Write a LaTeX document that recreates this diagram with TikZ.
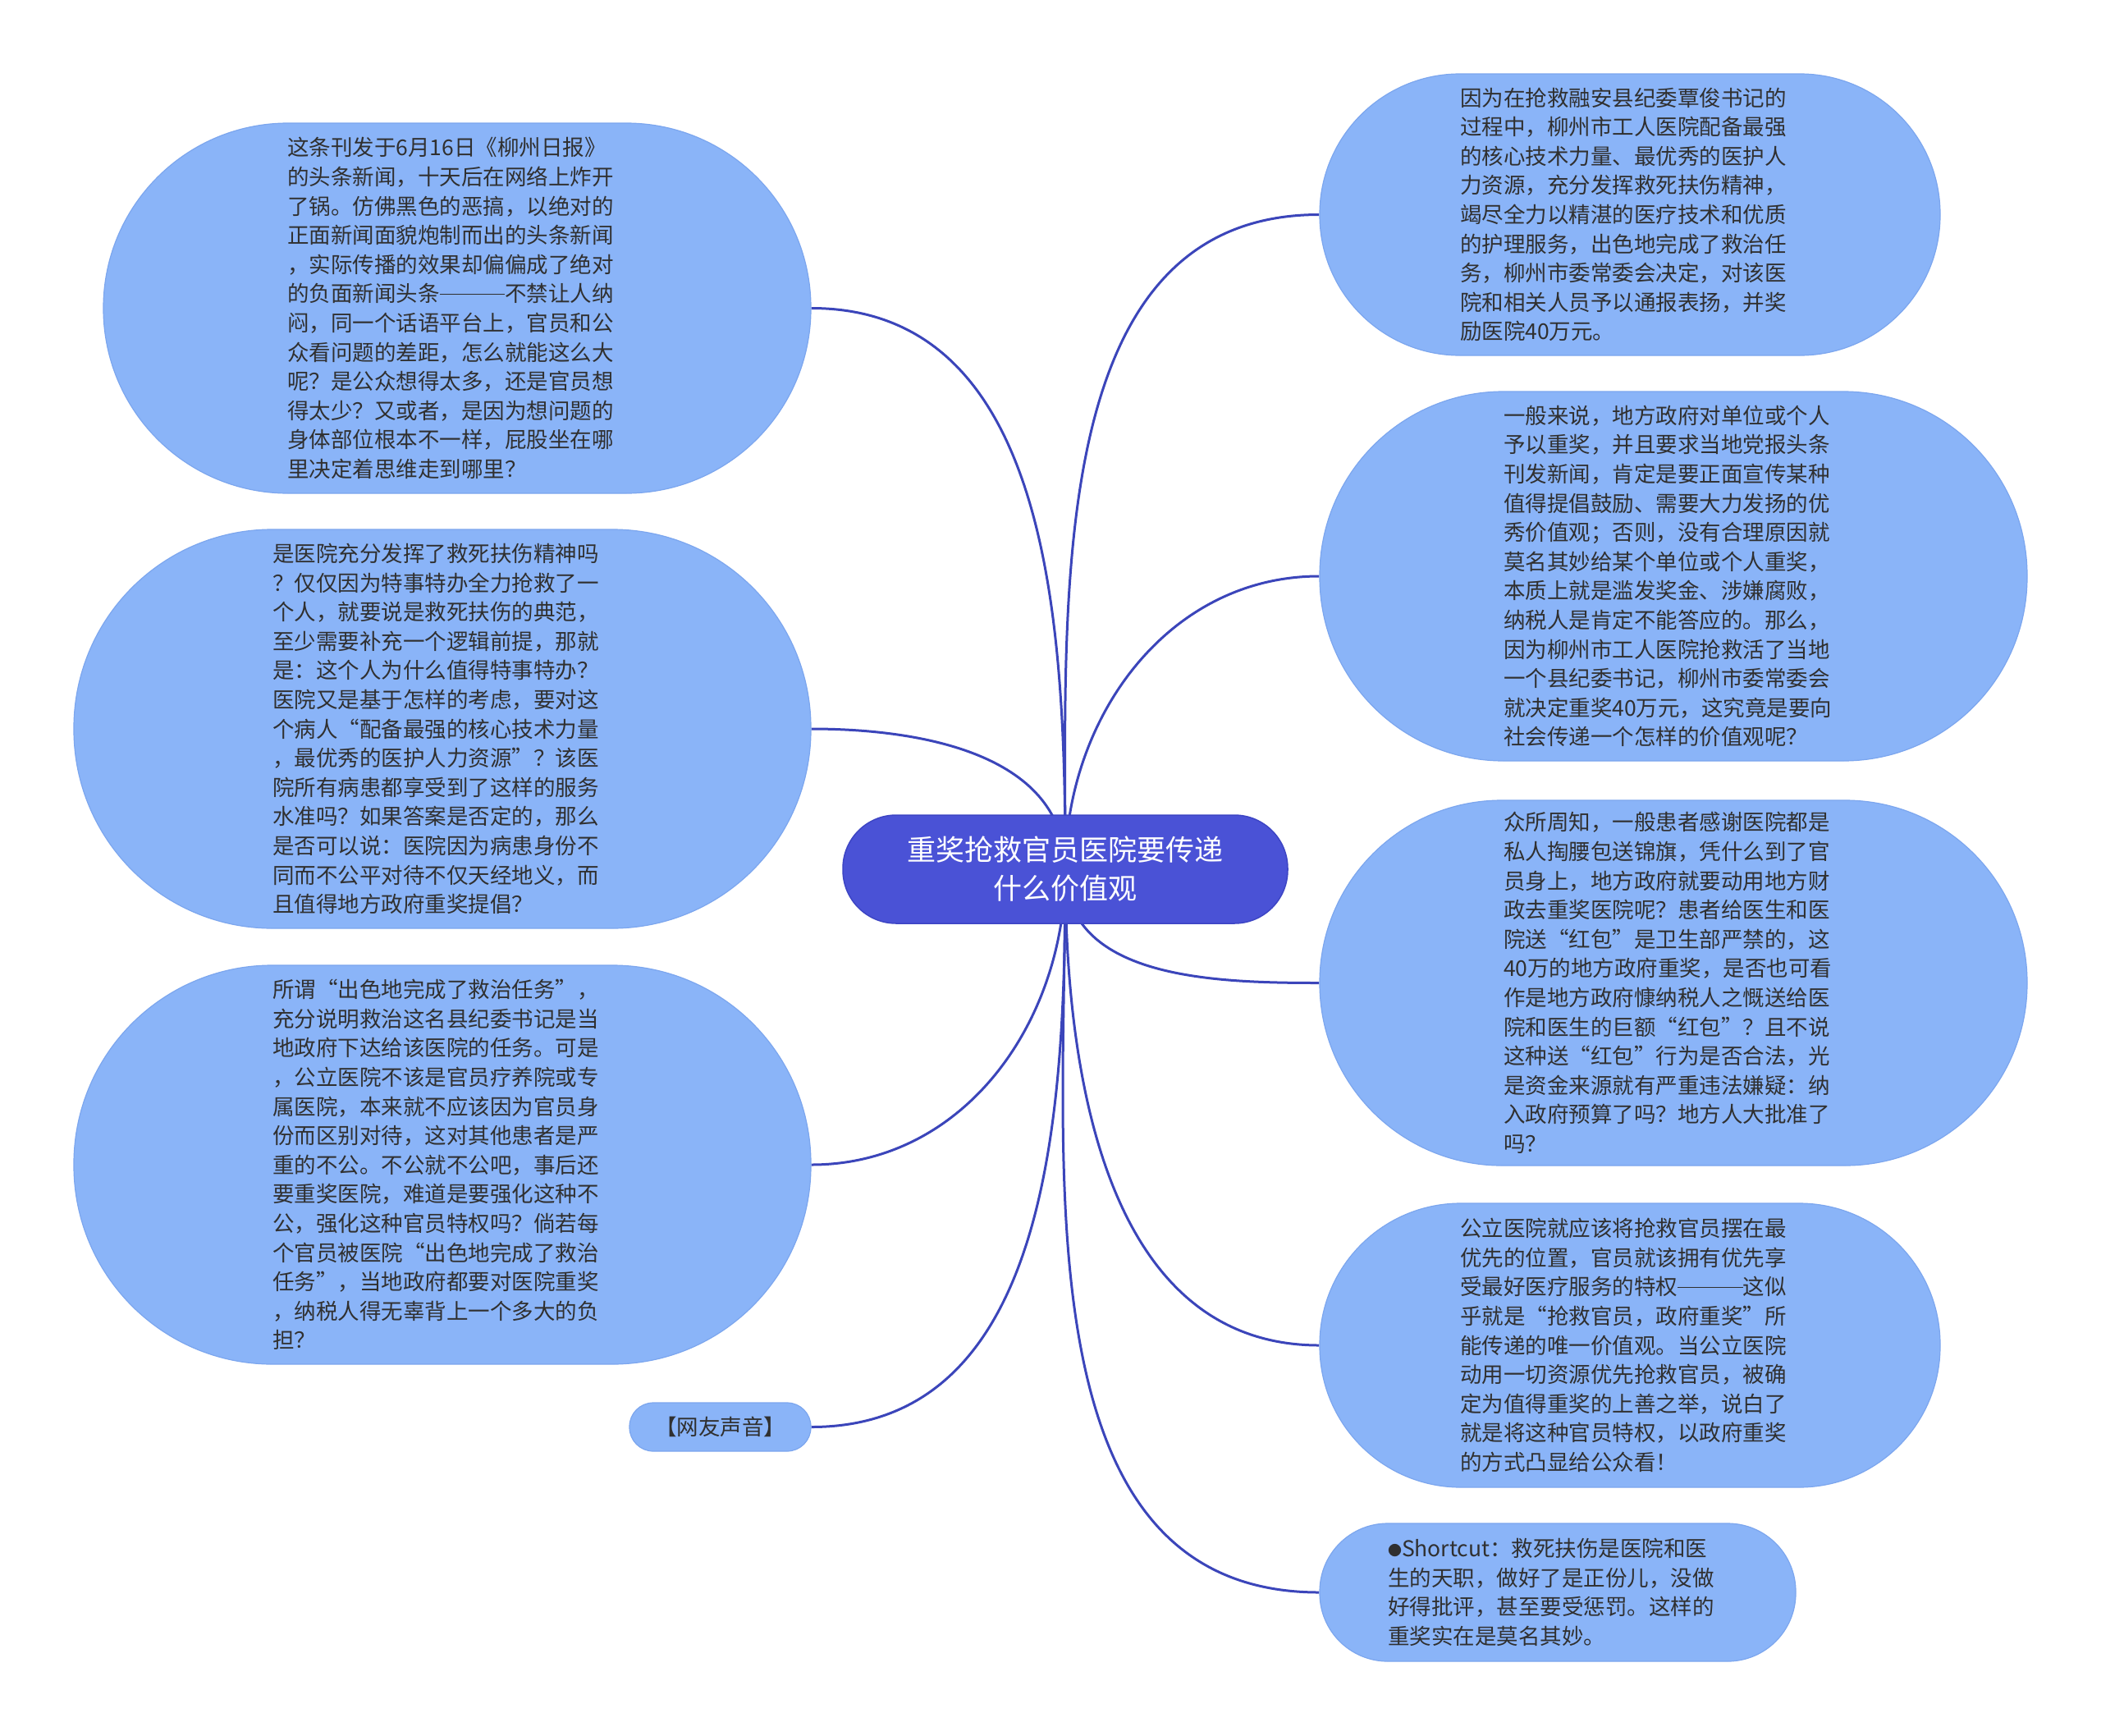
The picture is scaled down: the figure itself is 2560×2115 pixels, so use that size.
\documentclass[tikz,border=0pt]{standalone}
\usepackage{fontspec}
\newfontfamily\cjk{Noto Sans CJK SC}
\usetikzlibrary{backgrounds}
\definecolor{leaf}{HTML}{8AB4F8}
\definecolor{leafline}{HTML}{7CA6EE}
\definecolor{rootfill}{HTML}{4A52D6}
\definecolor{rootline}{HTML}{3D45C4}
\definecolor{linkcol}{HTML}{3B45BA}
\definecolor{ink}{HTML}{303030}
\newcommand{\longdash}{\rule[0.32em]{3em}{0.06em}}
\newcommand{\smallbullet}{\raisebox{0.05em}{\fontsize{17}{17}\selectfont ●}}
\begin{document}
\begin{tikzpicture}[x=1pt,y=-1pt,
  leafbox/.style={fill=leaf, draw=leafline, line width=1.2pt, text=ink,
    font=\cjk\fontsize{26.5}{35.6}\selectfont, align=left, inner sep=0pt},
  widetext/.style={text width=414pt},
  rootbox/.style={fill=rootfill, draw=rootline, line width=1.5pt, text=white,
    font=\cjk\fontsize{35}{47}\selectfont, align=center, inner sep=0pt,
    minimum width=542pt, minimum height=132pt, rounded corners=65pt},
  linkline/.style={draw=linkcol, line width=3pt}]
\useasboundingbox (0,0) rectangle (2560,2115);

\node[rootbox] (c) at (1298,1059) {重奖抢救官员医院要传递\\什么价值观};

\node[leafbox, widetext, minimum width=862pt, minimum height=451pt, rounded corners=225pt] (L1) at (557,375.5) {%
这条刊发于6月16日《柳州日报》\\
的头条新闻，十天后在网络上炸开\\
了锅。仿佛黑色的恶搞，以绝对的\\
正面新闻面貌炮制而出的头条新闻\\
，实际传播的效果却偏偏成了绝对\\
的负面新闻头条\longdash 不禁让人纳\\
闷，同一个话语平台上，官员和公\\
众看问题的差距，怎么就能这么大\\
呢？是公众想得太多，还是官员想\\
得太少？又或者，是因为想问题的\\
身体部位根本不一样，屁股坐在哪\\
里决定着思维走到哪里？};

\node[leafbox, widetext, minimum width=898pt, minimum height=486pt, rounded corners=242pt] (L2) at (539,888) {%
是医院充分发挥了救死扶伤精神吗\\
？仅仅因为特事特办全力抢救了一\\
个人，就要说是救死扶伤的典范，\\
至少需要补充一个逻辑前提，那就\\
是：这个人为什么值得特事特办？\\
医院又是基于怎样的考虑，要对这\\
个病人“配备最强的核心技术力量\\
，最优秀的医护人力资源”？该医\\
院所有病患都享受到了这样的服务\\
水准吗？如果答案是否定的，那么\\
是否可以说：医院因为病患身份不\\
同而不公平对待不仅天经地义，而\\
且值得地方政府重奖提倡？};

\node[leafbox, widetext, minimum width=898pt, minimum height=486pt, rounded corners=242pt] (L3) at (539,1419) {%
所谓“出色地完成了救治任务”，\\
充分说明救治这名县纪委书记是当\\
地政府下达给该医院的任务。可是\\
，公立医院不该是官员疗养院或专\\
属医院，本来就不应该因为官员身\\
份而区别对待，这对其他患者是严\\
重的不公。不公就不公吧，事后还\\
要重奖医院，难道是要强化这种不\\
公，强化这种官员特权吗？倘若每\\
个官员被医院“出色地完成了救治\\
任务”，当地政府都要对医院重奖\\
，纳税人得无辜背上一个多大的负\\
担？};

\node[leafbox, minimum width=221pt, minimum height=59pt, rounded corners=29pt] (L4) at (877.5,1738.5) {【网友声音】};

\node[leafbox, widetext, minimum width=756pt, minimum height=343pt, rounded corners=171pt] (R1) at (1986,261.5) {%
因为在抢救融安县纪委覃俊书记的\\
过程中，柳州市工人医院配备最强\\
的核心技术力量、最优秀的医护人\\
力资源，充分发挥救死扶伤精神，\\
竭尽全力以精湛的医疗技术和优质\\
的护理服务，出色地完成了救治任\\
务，柳州市委常委会决定，对该医\\
院和相关人员予以通报表扬，并奖\\
励医院40万元。};

\node[leafbox, widetext, minimum width=862pt, minimum height=450pt, rounded corners=224pt] (R2) at (2039,702) {%
一般来说，地方政府对单位或个人\\
予以重奖，并且要求当地党报头条\\
刊发新闻，肯定是要正面宣传某种\\
值得提倡鼓励、需要大力发扬的优\\
秀价值观；否则，没有合理原因就\\
莫名其妙给某个单位或个人重奖，\\
本质上就是滥发奖金、涉嫌腐败，\\
纳税人是肯定不能答应的。那么，\\
因为柳州市工人医院抢救活了当地\\
一个县纪委书记，柳州市委常委会\\
就决定重奖40万元，这究竟是要向\\
社会传递一个怎样的价值观呢？};

\node[leafbox, widetext, minimum width=862pt, minimum height=445pt, rounded corners=222pt] (R3) at (2039,1197.5) {%
众所周知，一般患者感谢医院都是\\
私人掏腰包送锦旗，凭什么到了官\\
员身上，地方政府就要动用地方财\\
政去重奖医院呢？患者给医生和医\\
院送“红包”是卫生部严禁的，这\\
40万的地方政府重奖，是否也可看\\
作是地方政府慷纳税人之慨送给医\\
院和医生的巨额“红包”？且不说\\
这种送“红包”行为是否合法，光\\
是资金来源就有严重违法嫌疑：纳\\
入政府预算了吗？地方人大批准了\\
吗？};

\node[leafbox, widetext, minimum width=756pt, minimum height=346pt, rounded corners=172pt] (R4) at (1986,1639) {%
公立医院就应该将抢救官员摆在最\\
优先的位置，官员就该拥有优先享\\
受最好医疗服务的特权\longdash 这似\\
乎就是“抢救官员，政府重奖”所\\
能传递的唯一价值观。当公立医院\\
动用一切资源优先抢救官员，被确\\
定为值得重奖的上善之举，说白了\\
就是将这种官员特权，以政府重奖\\
的方式凸显给公众看！};

\node[leafbox, widetext, minimum width=580pt, minimum height=168pt, rounded corners=83pt] (R5) at (1898,1940) {%
\smallbullet Shortcut：救死扶伤是医院和医\\
生的天职，做好了是正份儿，没做\\
好得批评，甚至要受惩罚。这样的\\
重奖实在是莫名其妙。};

\begin{scope}[on background layer]
\draw[linkline] (c.center) to[out=90,in=0] (L1.east);
\draw[linkline] (c.center) to[out=90,in=0] (L2.east);
\draw[linkline] (c.center) to[out=-90,in=0] (L3.east);
\draw[linkline] (c.center) to[out=-90,in=0] (L4.east);
\draw[linkline] (c.center) to[out=90,in=180] (R1.west);
\draw[linkline] (c.center) to[out=90,in=180] (R2.west);
\draw[linkline] (c.center) to[out=-90,in=180] (R3.west);
\draw[linkline] (c.center) to[out=-90,in=180] (R4.west);
\draw[linkline] (c.center) to[out=-90,in=180] (R5.west);
\end{scope}
\end{tikzpicture}
\end{document}
